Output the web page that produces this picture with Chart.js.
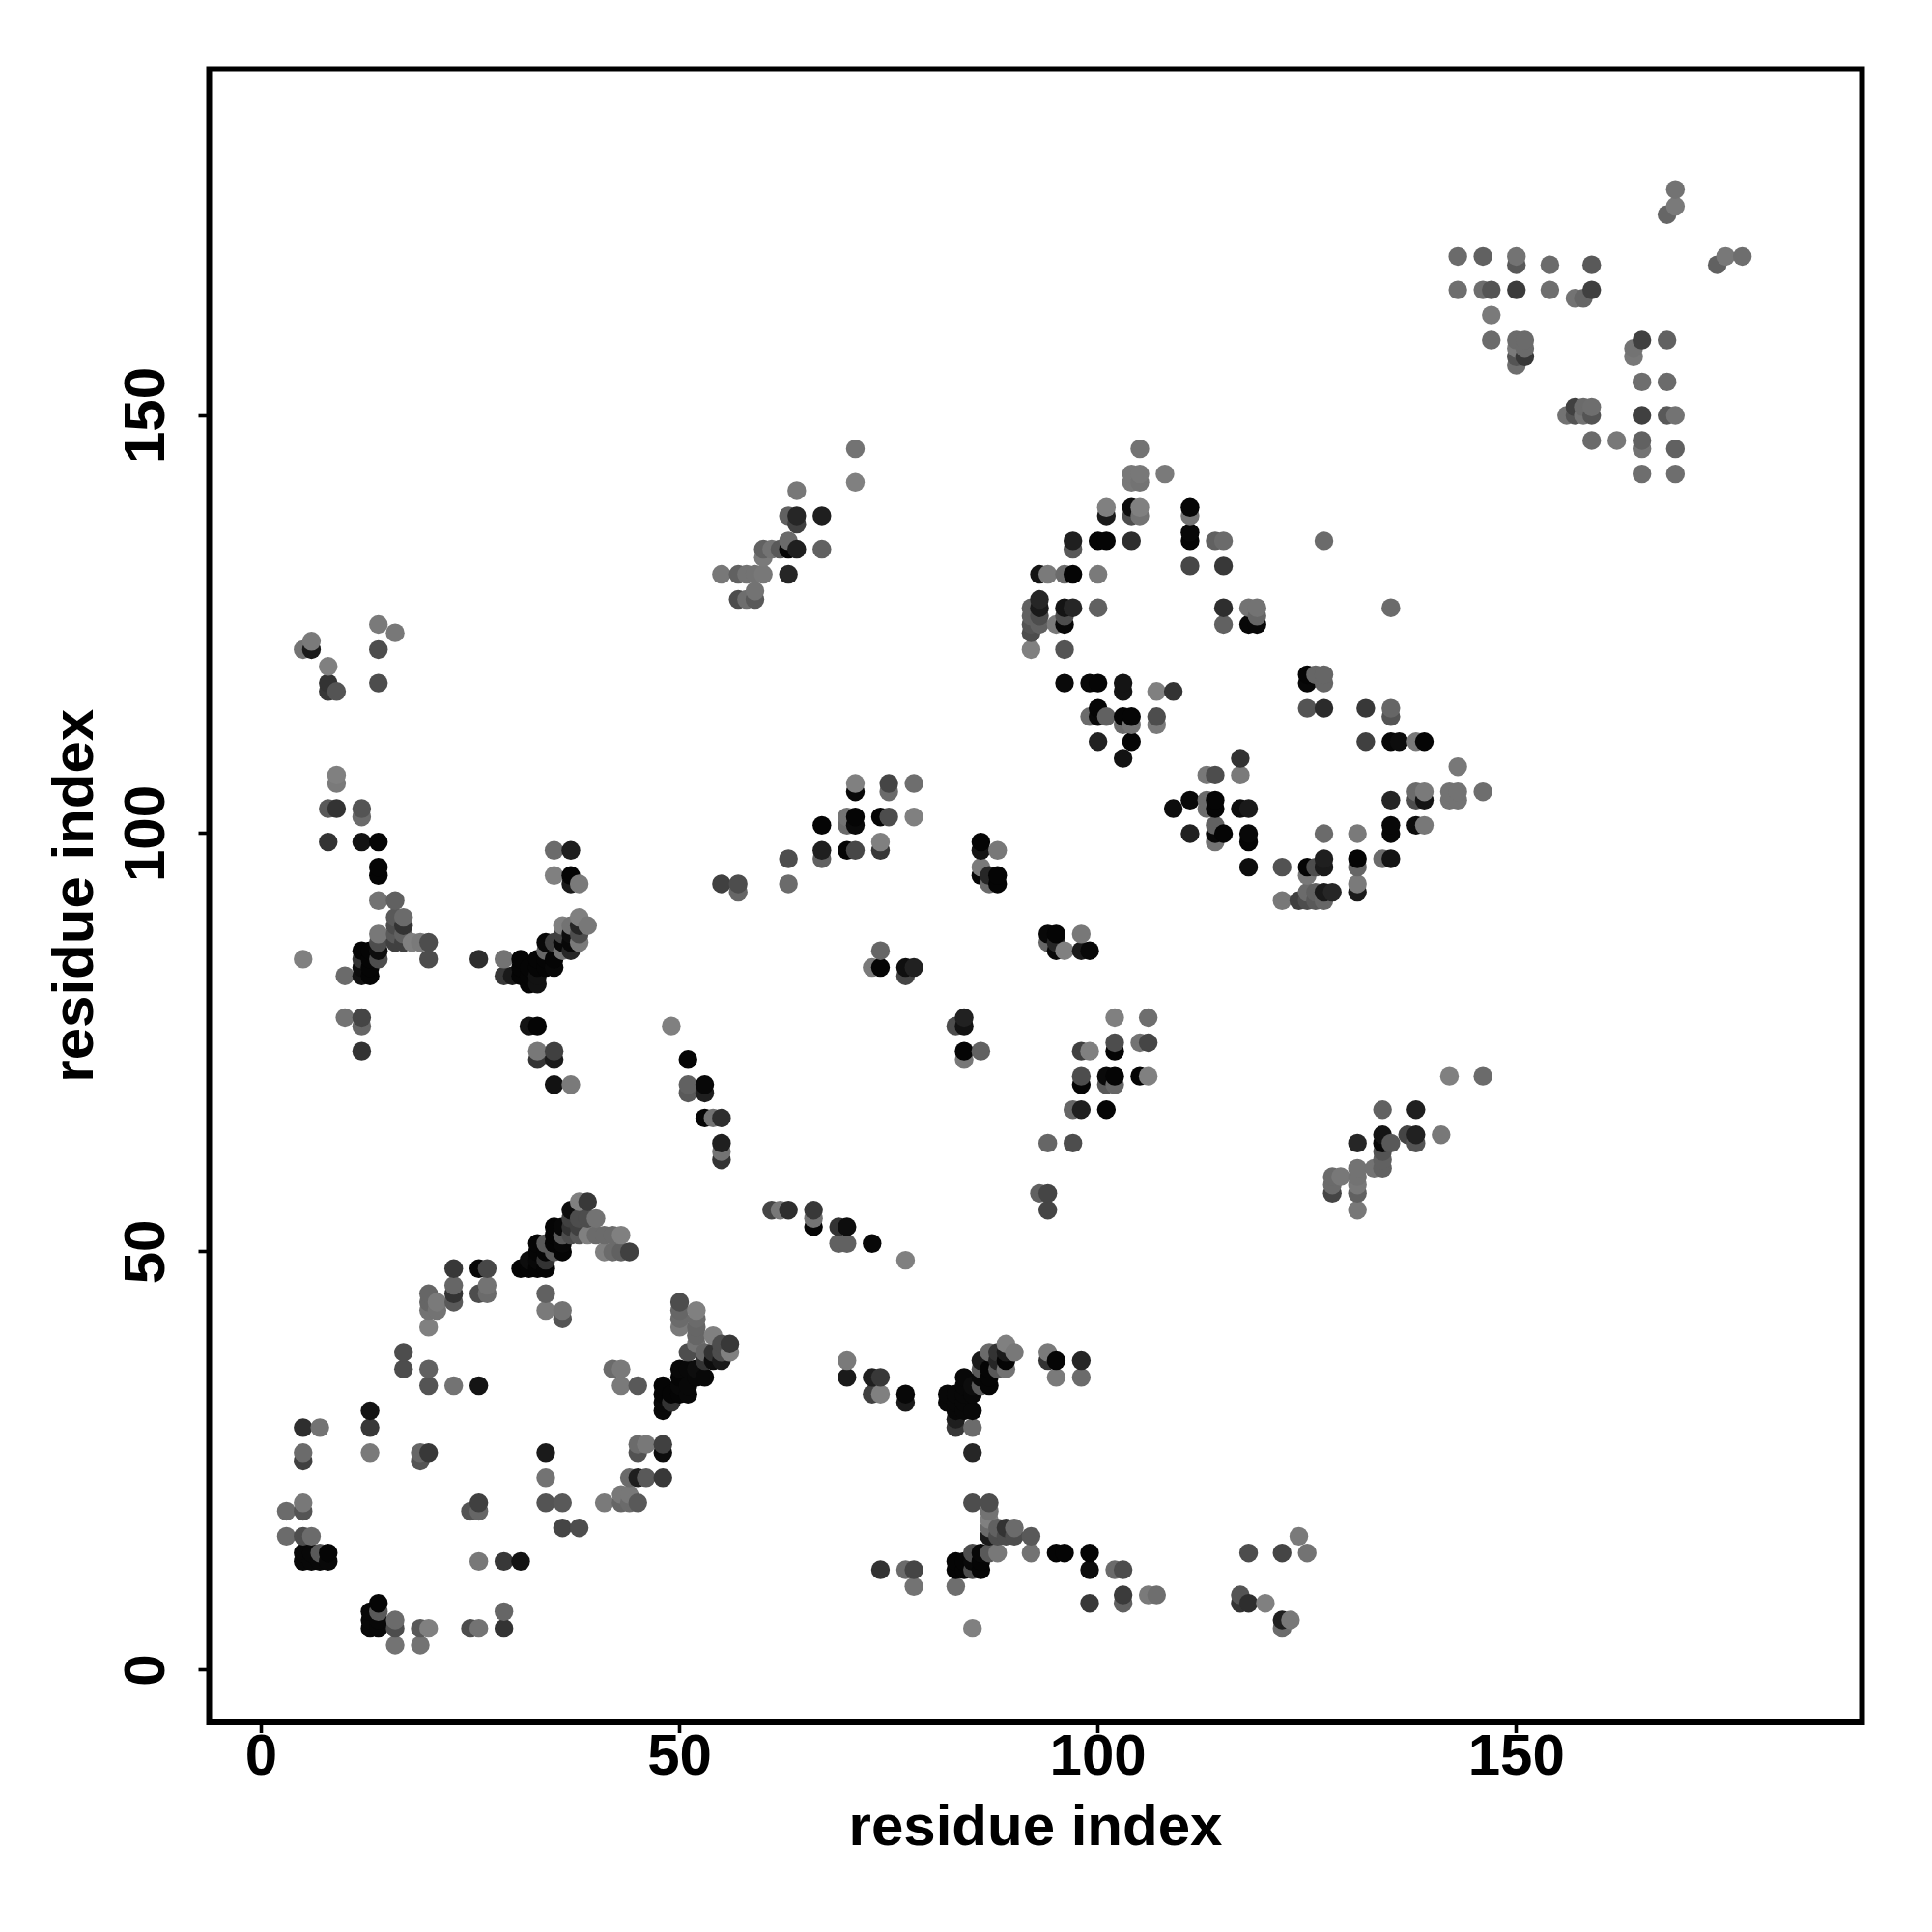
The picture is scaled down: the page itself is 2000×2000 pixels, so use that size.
<!DOCTYPE html>
<html>
<head>
<meta charset="utf-8">
<style>
  html, body { margin: 0; padding: 0; background: #fff; }
  #wrap { width: 2000px; height: 2000px; }
</style>
<script src="https://cdn.jsdelivr.net/npm/chart.js@4/dist/chart.umd.min.js"></script>
</head>
<body>
<div id="wrap"><canvas id="contactMap" width="2000" height="2000"></canvas></div>
<script>
const lowerLeftContacts = [
  [13,5,.03],[14,5,.03],[13,6,.03],[13,7,.03],[14,6,.03],[14,7,.35],[14,8,.02],
  [16,5,.3],[16,6,.42],[16,3,.45],[19,5,.35],[20,5,.5],[19,3,.45],
  [25,5,.3],[26,5,.45],[29,5,.2],[29,7,.4],[26,13,.47],[29,13,.22],[31,13,.08],
  [5,13,.03],[6,13,.03],[7,13,.03],[8,13,.03],[5,14,.03],[6,14,.03],[7,14,.35],[8,14,.02],
  [3,16,.42],[5,16,.3],[6,16,.42],[3,19,.42],[5,19,.33],[5,20,.47],
  [5,25,.25],[5,26,.42],[5,29,.18],[7,29,.45],[13,26,.48],[13,29,.22],[13,31,.08],
  [19,25,.33],[19,26,.4],[20,26,.22],[17,36,.3],[17,38,.3],
  [20,36,.38],[20,34,.33],[23,34,.45],[26,34,.08],
  [20,45,.4],[20,44,.4],[20,43,.45],[21,44,.48],[21,43,.45],[20,41,.5],
  [23,48,.22],[23,46,.4],[23,45,.2],[23,44,.35],
  [26,48,.03],[27,48,.28],[26,45,.3],[27,46,.45],[27,45,.42],
  [34,45,.38],[34,43,.48],[36,43,.45],[36,42,.33],
  [31,48,.02],[32,48,.02],[33,48,.02],[34,48,.02],[32,49,.05],[33,49,.03],[34,49,.2],
  [33,50,.02],[34,50,.02],[35,50,.35],[36,50,.02],[33,51,.02],[34,51,.35],[35,51,.02],[36,51,.03],
  [35,52,.02],[36,52,.35],[35,53,.02],[36,53,.03],[37,52,.3],[37,53,.2],[37,54,.25],[37,55,.05],
  [38,52,.35],[38,53,.25],[38,54,.3],[38,56,.5],[39,56,.22],[39,54,.3],[40,54,.45],
  [39,52,.5],[40,52,.42],[41,52,.42],[42,52,.42],[43,52,.5],
  [41,50,.5],[42,50,.42],[43,50,.38],[44,50,.25],
  [50,44,.3],[50,43,.4],[50,42,.42],[50,41,.48],[52,43,.5],[52,42,.42],[52,41,.4],[52,40,.4],[52,39,.45],
  [54,40,.5],[55,39,.3],[56,39,.22],[56,38,.5],[55,38,.3],[54,38,.2],[53,38,.4],[55,37,.1],
  [51,38,.3],[52,36,.05],[51,36,.03],[50,36,.03],[50,35,.02],[52,35,.03],[53,35,.03],[53,37,.2],[54,37,.05],
  [48,34,.02],[48,33,.02],[48,32,.03],[48,31,.03],[49,33,.02],[49,32,.2],[50,33,.02],[51,33,.03],[50,34,.03],[51,34,.03],
  [42,36,.42],[43,36,.48],[43,34,.48],[45,34,.35],
  [48,27,.25],[48,26,.05],[45,27,.42],[46,27,.47],[45,26,.32],
  [44,23,.42],[45,23,.12],[46,23,.35],[48,23,.22],
  [41,20,.48],[43,21,.47],[44,21,.47],[43,20,.4],[44,20,.42],[45,20,.35],
  [34,26,.1],[34,23,.45],[34,20,.33],[36,20,.35],[36,17,.27],[38,17,.3],
  [26,20,.25],[25,19,.33],[26,19,.4]
];
const lowerMiddleContacts = [
  [61,55,.27],[62,55,.47],[63,55,.18],[66,55,.22],[66,54,.45],[66,53,.02],
  [69,53,.2],[70,53,.05],[69,51,.38],[70,51,.38],[73,51,.03],[77,49,.5],
  [93,57,.38],[94,57,.27],[94,55,.27],
  [70,37,.48],[70,35,.1],[73,35,.12],[74,35,.22],[73,33,.25],[74,33,.5],[77,33,.03],[77,32,.1],
  [82,33,.03],[82,32,.03],[83,33,.03],[83,32,.03],[83,31,.03],[83,30,.12],[83,29,.22],[85,29,.42],[85,26,.15],
  [85,31,.03],[84,31,.03],[84,32,.03],[84,33,.03],[84,34,.03],[84,35,.03],[85,33,.03],[85,34,.05],[86,34,.35],
  [87,34,.02],[87,35,.02],[86,35,.03],[86,36,.35],[86,37,.1],[87,36,.02],[87,38,.42],[88,38,.2],[88,37,.15],[88,36,.35],
  [89,39,.5],[89,38,.1],[89,37,.02],[90,38,.47],[89,36,.45],
  [94,38,.48],[94,37,.2],[95,37,.02],[95,35,.48],[98,37,.15],[98,35,.42],
  [85,20,.3],[87,20,.3],[87,19,.45],[87,18,.5],[87,17,.42],[87,16,.1],[88,17,.38],[89,17,.2],[90,17,.42],
  [88,16,.3],[89,16,.3],[90,16,.3],[92,16,.35],[92,14,.45],[95,14,.02],[96,14,.02],[99,14,.02],[99,12,.05],
  [85,14,.3],[86,14,.03],[87,14,.35],[88,14,.47],[83,13,.02],[83,12,.02],[84,12,.02],[84,13,.02],[85,13,.03],[85,12,.3],[86,12,.02],[86,13,.02],
  [74,12,.2],[77,12,.42],[78,12,.27],[78,10,.45],[83,10,.43],[85,5,.5],
  [99,8,.22],[102,12,.42],[103,12,.3],[103,9,.23],[103,8,.38],[106,9,.48],[107,9,.43],
  [117,9,.33],[117,8,.2],[118,8,.18],[120,8,.5],[122,6,.12],[122,5,.42],[123,6,.47],
  [118,14,.3],[122,14,.27],[124,16,.48],[125,14,.45]
];
const middleLeftContacts = [
  [14,125,.48],[16,124,.47],[5,122,.45],[6,122,.1],[6,123,.48],[8,120,.5],[8,118,.2],[8,117,.22],[9,117,.33],[14,122,.3],[14,118,.3],
  [9,107,.5],[9,106,.48],[8,103,.35],[9,103,.2],[12,103,.33],[12,102,.42],[8,99,.2],[12,99,.07],[14,99,.02],[14,96,.02],[14,95,.02],[14,92,.45],[16,92,.38],
  [16,90,.35],[17,90,.42],[16,89,.3],[17,89,.2],[16,88,.35],[17,88,.38],[16,87,.25],[17,87,.25],[18,87,.5],[19,87,.48],[20,87,.3],[20,85,.3],
  [14,88,.47],[14,87,.3],[14,86,.05],[14,85,.3],
  [12,86,.02],[13,86,.02],[12,85,.2],[13,85,.02],[12,84,.05],[13,84,.02],[12,83,.07],[13,83,.02],
  [10,83,.42],[5,85,.5],[10,78,.45],[12,78,.27],[12,77,.4],[12,74,.2],
  [26,85,.18],[29,85,.45],[29,83,.22],[30,83,.1],[31,85,.02],[31,84,.02],[31,83,.02],[32,83,.02],[32,82,.02],[33,82,.07],
  [32,84,.02],[33,84,.02],[33,85,.02],[33,83,.07],[34,87,.03],[34,86,.4],[34,85,.02],[34,84,.02],[35,84,.03],[35,85,.02],[35,87,.25],
  [36,89,.5],[36,88,.25],[36,86,.45],[36,87,.03],[37,86,.15],[37,87,.03],[37,88,.05],[37,89,.45],
  [38,90,.5],[38,89,.15],[38,88,.3],[38,87,.48],[39,89,.47],
  [35,98,.42],[37,98,.12],[35,95,.5],[37,95,.02],[37,94,.1],[38,94,.48],
  [32,77,.08],[33,77,.02],[33,74,.47],[35,74,.25],[33,73,.2],[35,73,.1],[35,70,.07],[37,70,.48],
  [49,77,.5],[51,73,.02],[51,70,.38],[51,69,.35],[53,70,.03],[53,69,.12],[53,66,.02],[54,66,.45],[55,66,.18],[55,63,.12],[55,62,.45],[55,61,.2],
  [55,94,.25],[57,94,.3],[57,93,.4]
];
const middleContacts = [
  [63,97,.3],[63,94,.42],[67,101,.02],[67,98,.12],[67,97,.38],[70,102,.45],[70,101,.42],[71,102,.02],[71,101,.04],[71,105,.03],[71,106,.5],
  [70,98,.02],[71,98,.28],[74,102,.02],[75,102,.3],[74,99,.5],[74,98,.22],[75,106,.27],[75,105,.42],[78,106,.43],[78,102,.5],
  [86,99,.02],[86,98,.08],[88,98,.47],[86,96,.48],[86,95,.02],[87,95,.15],[87,94,.42],[88,95,.02],[88,94,.02],
  [94,88,.03],[95,88,.02],[94,87,.4],[95,86,.03],[95,87,.15],[96,86,.5],[98,88,.47],[98,86,.1],[99,86,.03],
  [74,86,.4],[73,84,.48],[74,84,.02],[77,84,.06],[78,84,.13],[77,83,.27],
  [83,77,.3],[84,78,.13],[84,77,.07],[84,74,.02],[86,74,.38],[84,73,.47],
  [98,74,.25],[99,74,.5],[102,75,.3],[102,74,.02],[102,78,.5],[106,78,.43],[105,75,.45],[106,75,.27],
  [98,71,.3],[98,70,.02],[101,71,.04],[102,71,.02],[101,70,.35],[102,70,.4],[105,71,.02],[106,71,.5],
  [97,67,.4],[98,67,.12],[101,67,.02],[94,63,.4],[97,63,.3]
];
const upperMiddleContacts = [
  [105,146,.45],[104,143,.47],[105,143,.47],[108,143,.48],[104,142,.47],[105,142,.45],
  [101,139,.5],[101,138,.1],[104,139,.05],[104,138,.3],[105,139,.5],[105,138,.45],
  [111,139,.02],[111,138,.45],[111,136,.03],[111,135,.02],[114,135,.38],[115,135,.42],[127,135,.42],
  [97,135,.12],[97,134,.35],[100,135,.02],[101,135,.02],[104,135,.18],[111,132,.28],[115,132,.22],
  [93,131,.08],[94,131,.48],[96,131,.42],[97,131,.02],[100,131,.48],
  [93,128,.15],[93,127,.1],[92,127,.38],[92,126,.38],[93,126,.3],[92,125,.33],[93,125,.38],[92,124,.3],
  [96,127,.08],[97,127,.15],[100,127,.38],[96,126,.3],[95,125,.48],[96,125,.03],[92,122,.5],[96,122,.33],
  [115,127,.18],[115,125,.38],[118,127,.45],[119,127,.45],[118,125,.03],[119,125,.03],[119,126,.4],[135,127,.42],
  [96,118,.04],[99,118,.03],[100,118,.02],[103,118,.08],[103,117,.08],[107,117,.5],[109,117,.2],
  [100,115,.02],[99,114,.42],[100,114,.03],[101,114,.38],[103,114,.02],[104,114,.02],[103,113,.42],[104,113,.45],[107,114,.3],[107,113,.48],
  [100,111,.13],[104,111,.02],[103,109,.07],
  [125,119,.02],[126,119,.4],[127,119,.4],[125,118,.03],[127,118,.4],[125,115,.33],[127,115,.17],[132,115,.22],[135,115,.4],[135,114,.33],
  [132,111,.25],[135,111,.03],[136,111,.05],[138,111,.47],[139,111,.02],
  [117,109,.2],[113,107,.47],[114,107,.3],[117,107,.48],[143,108,.47],
  [111,104,.03],[109,103,.05],[113,104,.42],[114,104,.02],[113,103,.42],[114,103,.02],[117,103,.05],[118,103,.1],
  [111,100,.13],[114,101,.38],[114,100,.03],[115,100,.02],[114,99,.45],[118,100,.03],[118,99,.02],[118,96,.05],
  [122,96,.32],[125,96,.02],[126,96,.3],[127,97,.12],[127,96,.1],[125,95,.47],[127,100,.42],[131,100,.48],[131,97,.02],[131,96,.4],[131,94,.48],[131,93,.1],[134,97,.42],[135,97,.08],
  [122,92,.47],[124,92,.25],[125,93,.42],[125,92,.3],[126,93,.38],[126,92,.35],[127,93,.1],[127,92,.4],[128,93,.15],
  [135,104,.15],[135,101,.03],[135,100,.03],[138,105,.42],[139,105,.48],[138,104,.3],[139,104,.08],[138,101,.05],[139,101,.47],
  [142,105,.45],[143,105,.45],[142,104,.45],[143,104,.45],[146,105,.43]
];
const upperRightContacts = [
  [169,177,.45],[169,175,.48],[168,174,.4],
  [143,169,.42],[146,169,.38],[150,169,.45],[150,168,.35],[154,168,.42],[159,168,.35],[175,169,.47],[177,169,.43],[174,168,.38],
  [143,165,.43],[146,165,.43],[147,165,.33],[150,165,.23],[154,165,.43],[157,164,.45],[158,164,.4],[159,165,.25],
  [147,162,.48],[147,159,.42],[150,159,.42],[151,159,.42],[150,158,.48],[151,158,.42],[150,157,.33],[151,157,.22],[150,156,.43],
  [165,159,.25],[164,158,.45],[164,157,.47],[168,159,.38],[165,154,.43],[168,154,.42],
  [157,151,.25],[158,151,.42],[159,151,.43],[156,150,.45],[157,150,.33],[158,150,.45],[159,150,.33],[165,150,.25],[168,150,.35],[169,150,.45],
  [159,147,.42],[162,147,.47],[165,147,.38],[165,146,.45],[169,146,.38],[165,143,.43],[169,143,.43]
];
const upperStrandContacts = [
  [71,146,.45],[71,142,.5],[64,141,.47],[63,138,.38],[64,138,.15],[64,137,.25],[67,138,.12],[63,135,.42],
  [60,134,.38],[61,134,.45],[62,134,.35],[63,134,.02],[64,134,.12],[67,134,.38],[60,133,.48],
  [55,131,.47],[57,131,.38],[58,131,.45],[59,131,.45],[60,131,.47],[63,131,.15],
  [59,129,.45],[57,128,.3],[58,128,.43],[59,128,.35]
];
const lowerRightContacts = [
  [142,71,.5],[146,71,.42],[134,67,.38],[138,67,.12],[134,64,.08],[134,63,.03],[131,63,.15],[135,63,.35],
  [137,64,.27],[138,64,.13],[138,63,.33],[141,64,.47],
  [134,62,.33],[134,61,.38],[134,60,.38],[133,60,.45],[131,60,.45],[131,59,.45],[131,58,.47],[131,57,.38],[131,55,.47],
  [128,59,.42],[129,59,.47],[128,58,.42],[128,57,.27]
];
const tickValues = [0, 50, 100, 150];
const axisTitle = 'residue index';

// same painting order as the source: low i first, then low j
const contacts = [].concat(
  lowerLeftContacts, lowerMiddleContacts, middleLeftContacts, middleContacts,
  upperMiddleContacts, upperRightContacts, upperStrandContacts, lowerRightContacts
).sort((a, b) => a[0] - b[0] || a[1] - b[1]);

const points = contacts.map(c => ({ x: c[0], y: c[1] }));
const colors = contacts.map(c => {
  const g = Math.round(c[2] * 255);
  return `rgb(${g},${g},${g})`;
});

// box round the plot
const framePlugin = {
  id: 'frame',
  afterDatasetsDraw(chart) {
    const { ctx, chartArea } = chart;
    ctx.save();
    ctx.strokeStyle = '#000';
    ctx.lineWidth = 6;
    ctx.strokeRect(chartArea.left, chartArea.top, chartArea.right - chartArea.left, chartArea.bottom - chartArea.top);
    ctx.restore();
  }
};

const labelFont = { family: '"Liberation Sans", Arial, sans-serif', size: 60, weight: 'bold' };

function axisOptions(min, max) {
  return {
    min,
    max,
    afterBuildTicks(scale) {
      scale.ticks = tickValues.map(v => ({ value: v }));
    },
    grid: { drawOnChartArea: false, drawTicks: true, tickLength: 11, tickWidth: 3.6, tickColor: '#000' },
    border: { display: false },
    title: { display: true, text: axisTitle, color: '#000', font: labelFont }
  };
}

const xAxis = axisOptions(-6.23, 191.3);
xAxis.afterFit = scale => { scale.height = 217; };
xAxis.ticks = { color: '#000', font: labelFont, padding: -10, maxRotation: 0, minRotation: 0 };
xAxis.title.padding = { top: 0, bottom: 71 };

const yAxis = axisOptions(-6.24, 191.4);
yAxis.afterFit = scale => { scale.width = 216.5; };
yAxis.ticks = { color: '#000', font: labelFont, padding: 2, minRotation: 90, maxRotation: 90, crossAlign: 'center' };
yAxis.title.padding = { top: 43, bottom: 0 };

new Chart(document.getElementById('contactMap').getContext('2d'), {
  type: 'scatter',
  data: {
    datasets: [{
      data: points,
      backgroundColor: colors,
      borderWidth: 0,
      pointRadius: 9.7,
      pointHoverRadius: 9.7
    }]
  },
  options: {
    responsive: false,
    animation: false,
    layout: { padding: { top: 71.5, right: 72.5, left: 0, bottom: 0 } },
    plugins: { legend: { display: false }, tooltip: { enabled: false } },
    scales: { x: xAxis, y: yAxis }
  },
  plugins: [framePlugin]
});
</script>
</body>
</html>
